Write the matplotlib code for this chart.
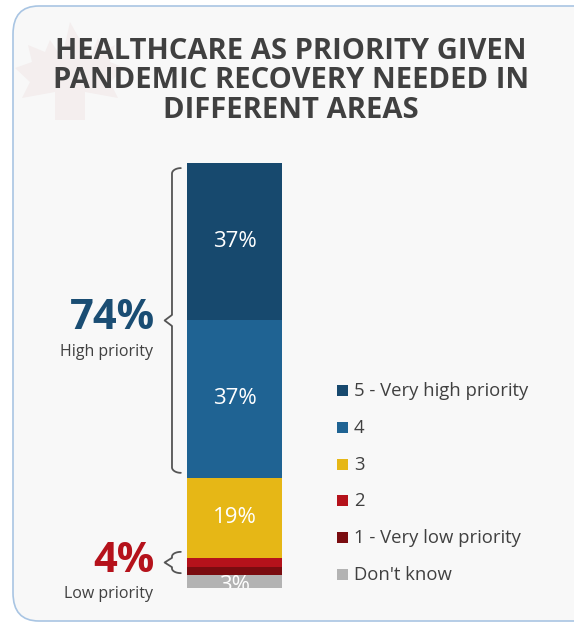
import numpy as np
import matplotlib
matplotlib.use('Agg')
import matplotlib.pyplot as plt
from matplotlib.patches import FancyBboxPatch, Polygon

# survey shares, bottom of the stack first
cats = ["Don't know", "1 - Very low priority", "2", "3", "4", "5 - Very high priority"]
vals = [3, 2, 2, 19, 37, 37]
colors = ['#b3b3b3', '#7a0c10', '#b5121b', '#e6b716', '#1f6393', '#17496e']
labels = ['3%', '', '', '19%', '37%', '37%']
high_pct = '74%'
low_pct = '4%'

W, H = 574, 626
fig = plt.figure(figsize=(W / 100, H / 100), dpi=100)
fig.patch.set_facecolor('white')

def fx(px):
    return px / W

def fy(py):
    return 1 - py / H

# card background
card = FancyBboxPatch((fx(13), fy(621)), fx(600), fy(6) - fy(621),
                      boxstyle='round,pad=0,rounding_size=0.045',
                      transform=fig.transFigure, facecolor='#f8f8f8',
                      edgecolor='#a9c5e3', linewidth=1.2, zorder=-2)
fig.patches.append(card)

# faint maple leaf behind the title
leaf = [(55, 120), (55, 92), (22, 98), (30, 82), (15, 68), (32, 62), (28, 45),
        (45, 52), (50, 40), (62, 58), (70, 22), (80, 40), (90, 58), (98, 38),
        (103, 52), (115, 45), (110, 62), (125, 68), (110, 82), (118, 98),
        (85, 92), (85, 120)]
leaf = Polygon([(fx(x), fy(y)) for x, y in leaf], closed=True,
               transform=fig.transFigure, facecolor='#f4eeee', edgecolor='none',
               zorder=-1)
fig.patches.append(leaf)

fig.text(fx(291), fy(81), 'HEALTHCARE AS PRIORITY GIVEN\nPANDEMIC RECOVERY NEEDED IN\nDIFFERENT AREAS',
         ha='center', va='center', fontsize=21, fontweight='bold',
         family='Open Sans', color='#404040', linespacing=1.03)

# stacked bar
ax = fig.add_axes([fx(187), fy(588), fx(95), fy(163) - fy(588)])
ax.set_zorder(5)
ax.set_facecolor('none')
bottom = 0
for v, c, lab in zip(vals, colors, labels):
    ax.bar(0, v, width=1, bottom=bottom, color=c, edgecolor='none')
    if lab:
        ax.text(0, bottom + v / 2 - (0.8 if v < 5 else 0), lab, ha='center', va='center',
                color='white', fontsize=16, family='Open Sans', clip_on=True)
    bottom += v
ax.set_xlim(-0.5, 0.5)
ax.set_ylim(0, 100)
ax.axis('off')


def brace(ax, x, y0, y1, depth, r, color='#555555'):
    # curly brace opening to the right, in axes-x / data-y coordinates
    ym = (y0 + y1) / 2
    t = np.linspace(0, 1, 30)
    q = t * np.pi / 2
    xs, ys = [], []
    # bottom hook
    xs += list(x + depth * 0.6 * (1 - np.sin(q)))
    ys += list(y0 + r * (1 - np.cos(q)))
    # lower stem
    xs += [x, x]
    ys += [y0 + r, ym - r]
    # tip
    xs += list(x - depth * 0.5 * np.sin(q))
    ys += list(ym - r + r * np.sin(q))
    xs += list(x - depth * 0.5 * np.cos(q))
    ys += list(ym + r * (1 - np.cos(q)))
    # upper stem
    xs += [x, x]
    ys += [ym + r, y1 - r]
    # top hook
    xs += list(x + depth * 0.6 * (1 - np.cos(q)))
    ys += list(y1 - r + r * np.sin(q))
    ax.plot(xs, ys, color=color, lw=1.3, transform=ax.get_yaxis_transform(),
            clip_on=False, solid_capstyle='round')


brace(ax, -0.158, 27.1, 98.8, 0.155, 1.3)
brace(ax, -0.158, 3.5, 8.5, 0.155, 1.1)

fig.text(fx(112), fy(318), high_pct, ha='center', va='center', fontsize=30,
         fontweight='bold', family='Open Sans', color='#1a4d73')
fig.text(fx(106), fy(352), 'High priority', ha='center', va='center',
         fontsize=11.5, family='Open Sans', color='#404040')
fig.text(fx(124), fy(562), low_pct, ha='center', va='center', fontsize=30,
         fontweight='bold', family='Open Sans', color='#b5121b')
fig.text(fx(108), fy(594), 'Low priority', ha='center', va='center',
         fontsize=11.5, family='Open Sans', color='#404040')

# legend, top entry first
leg_y = [391, 428, 465, 501, 538, 575]
for cat, c, y in zip(cats[::-1], colors[::-1], leg_y):
    fig.patches.append(plt.Rectangle((fx(337), fy(y + 5)), fx(11), fy(0) - fy(11),
                                     transform=fig.transFigure, facecolor=c,
                                     edgecolor='none'))
    fig.text(fx(354), fy(y), cat, ha='left', va='center', fontsize=13.3,
             family='Open Sans', color='#404040')

fig.savefig('out.png', dpi=100, facecolor='white')
